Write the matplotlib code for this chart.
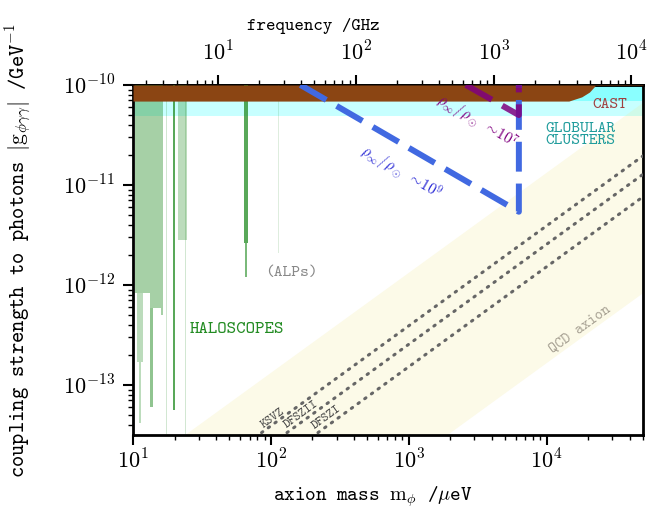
import numpy as np
import matplotlib
matplotlib.use('Agg')
import matplotlib.pyplot as plt
from matplotlib.ticker import FuncFormatter

plt.rcParams['font.family'] = 'cmtt10'
plt.rcParams['mathtext.fontset'] = 'cm'
plt.rcParams['axes.unicode_minus'] = True


# axis ranges (mass in micro-eV, coupling in 1/GeV)
m_range = [10, 5e4]
g_range = [10**-13.5, 1e-10]
m_ticks = [1e1, 1e2, 1e3, 1e4]
g_ticks = [1e-13, 1e-12, 1e-11, 1e-10]
f_ticks = [1e1, 1e2, 1e3, 1e4]

# CAST helioscope limit
cast_m = [10, 14500, 18000, 20500, 22500, 24000, 5e4]
cast_g = [6.9e-11, 6.9e-11, 7.6e-11, 8.5e-11, 9.8e-11, 1.2e-10, 1.2e-10]

# globular clusters (horizontal branch) limit
gc_g = 4.9e-11

# haloscope exclusions: mass window, reached coupling, upper edge, opacity
halo_lo = [10.3, 13.3, 15.9, 10.6, 11.0, 13.3, 17.3, 19.6, 21.2, 23.7, 30.4, 34.8, 37.9, 44.0, 64.0, 65.0, 112]
halo_hi = [16.5, 16.5, 16.5, 11.8, 11.4, 14.0, 17.5, 20.0, 24.7, 24.1, 30.8, 35.2, 38.3, 44.4, 68.5, 67.0, 114]
halo_g = [8.3e-13, 5.9e-13, 5.0e-13, 1.7e-13, 4.2e-14, 6.0e-14, 3.2e-14, 5.6e-14, 2.8e-12, 3.2e-14,
          1.4e-12, 5.2e-13, 1.05e-12, 6.6e-14, 2.6e-12, 1.2e-12, 2.1e-12]
halo_top = [1e-10, 8.3e-13, 5.9e-13, 8.3e-13, 1.7e-13, 5.9e-13, 1e-10, 1e-10, 1e-10, 1e-10,
            1e-10, 1e-10, 1e-10, 1e-10, 1e-10, 2.6e-12, 1e-10]
halo_alpha = [0.4, 0.4, 0.4, 0.3, 0.3, 0.5, 0.2, 0.75, 0.3, 0.2, 0.15, 0.3, 0.3, 0.12, 0.75, 0.6, 0.15]

# QCD axion band edges, g / m  (GeV^-1 per micro-eV)
qcd_upper = 1.32e-15
qcd_lower = 1.65e-17

# benchmark models, g / m
models = ['KSVZ', 'DFSZII', 'DFSZI']
model_c = [3.9e-16, 2.55e-16, 1.52e-16]
model_lab_m = [104, 166, 252]
model_lab_g = [4.6e-14, 5.1e-14, 4.7e-14]

# dark matter overdensity reach
rho9_m = [164, 6300, 6300]
rho9_g = [1e-10, 5.4e-12, 1e-10]
rho7_m = [2600, 6300, 6300]
rho7_g = [1e-10, 5.0e-11, 1e-10]

# micro-eV -> GHz
ueV_to_GHz = 0.241799


fig = plt.figure(figsize=(6.47, 5.14), dpi=100)
ax = fig.add_axes([0.2056, 0.1537, 0.788, 0.681])
ax.set_xscale('log')
ax.set_yscale('log')
ax.set_xlim(m_range)
ax.set_ylim(g_range)

m_edge = np.array(m_range)

# globular clusters
ax.fill_between(m_edge, gc_g, 1e-10, color='cyan', alpha=0.22, lw=0, zorder=1)
ax.fill_between(m_edge, 6.9e-11, 1e-10, color='cyan', alpha=0.3, lw=0, zorder=1)

# QCD band
ax.fill_between(m_edge, qcd_lower * m_edge, qcd_upper * m_edge, color='khaki', alpha=0.2, lw=0, zorder=2)

# haloscopes
for lo, hi, g, gt, a in zip(halo_lo, halo_hi, halo_g, halo_top, halo_alpha):
    ax.fill_between([lo, hi], [g, g], gt, color='#228b22', alpha=a, lw=0, zorder=3)

# CAST
ax.fill_between(cast_m, cast_g, 1e-10, color='#8b4513', lw=0, zorder=4)

# model lines
for name, c, lm, lg in zip(models, model_c, model_lab_m, model_lab_g):
    ax.plot(m_edge, c * m_edge, color='#666666', ls=(0, (0.5, 2.2)), lw=2.2,
            dash_capstyle='round', zorder=5)
    ax.text(lm, lg, name, fontsize=9, color='#444444', rotation=36,
            ha='center', va='center', zorder=6)

# overdensity lines
ax.plot(rho9_m, rho9_g, color='royalblue', lw=4.3, dashes=(5, 2), zorder=6)
ax.plot(rho7_m, rho7_g, color='purple', lw=4.3, dashes=(5, 2), alpha=0.85, zorder=7)

ax.text(3100, 4.3e-11, r'$\rho_\infty/\rho_\odot\ \sim\!10^7$', color='purple', fontsize=11,
        rotation=-30, ha='center', va='center', zorder=8)
ax.text(870, 1.32e-11, r'$\rho_\infty/\rho_\odot\ \sim\!10^9$', color='#2b2bd6', fontsize=11,
        rotation=-30, ha='center', va='center', zorder=8)

ax.text(38600, 6.3e-11, 'CAST', color='#a04040', fontsize=12, ha='right', va='center', zorder=8)
ax.text(9800, 3.16e-11, 'GLOBULAR\nCLUSTERS', color='#209c9c', fontsize=12, ha='left', va='center',
        linespacing=0.85, zorder=8)
ax.text(140, 1.32e-12, '(ALPs)', color='#888888', fontsize=12, ha='center', va='center', zorder=8)
ax.text(57, 3.6e-13, 'HALOSCOPES', color='#228b22', fontsize=13, ha='center', va='center', zorder=8)
ax.text(17600, 3.55e-13, 'QCD axion', color='#a8a294', fontsize=11, rotation=36,
        ha='center', va='center', zorder=8)

fmt = FuncFormatter(lambda v, p: r'$10^{%d}$' % round(np.log10(v)))
ax.set_xticks(m_ticks)
ax.set_yticks(g_ticks)
ax.xaxis.set_major_formatter(fmt)
ax.yaxis.set_major_formatter(fmt)
ax.tick_params(which='major', direction='out', length=7, width=1.5, labelsize=16)
ax.tick_params(which='minor', direction='out', length=3.5, width=1)
ax.tick_params(axis='y', which='major', pad=6)
for s in ax.spines.values():
    s.set_linewidth(2)

ax.set_xlabel(r'axion mass $\mathrm{m}_\phi$ /$\mu$eV', fontsize=14.5)
ax.xaxis.set_label_coords(0.47, -0.14)
ax.set_ylabel(r'coupling strength to photons $|\mathrm{g}_{\phi\gamma\gamma}|$ /GeV$^{-1}$', fontsize=15.5)
ax.yaxis.set_label_coords(-0.195, 0.526)

top = ax.secondary_xaxis('top', functions=(lambda m: m * ueV_to_GHz, lambda f: f / ueV_to_GHz))
top.set_xticks(f_ticks)
top.xaxis.set_major_formatter(fmt)
top.tick_params(which='major', direction='out', length=7, width=1.5, labelsize=16, pad=7)
top.tick_params(which='minor', direction='out', length=3.5, width=1)
top.set_xlabel('frequency /GHz', fontsize=13, labelpad=8)
top.xaxis.label.set_x(0.353)
top.spines['top'].set_linewidth(2)

fig.savefig('out.png', dpi=100)
